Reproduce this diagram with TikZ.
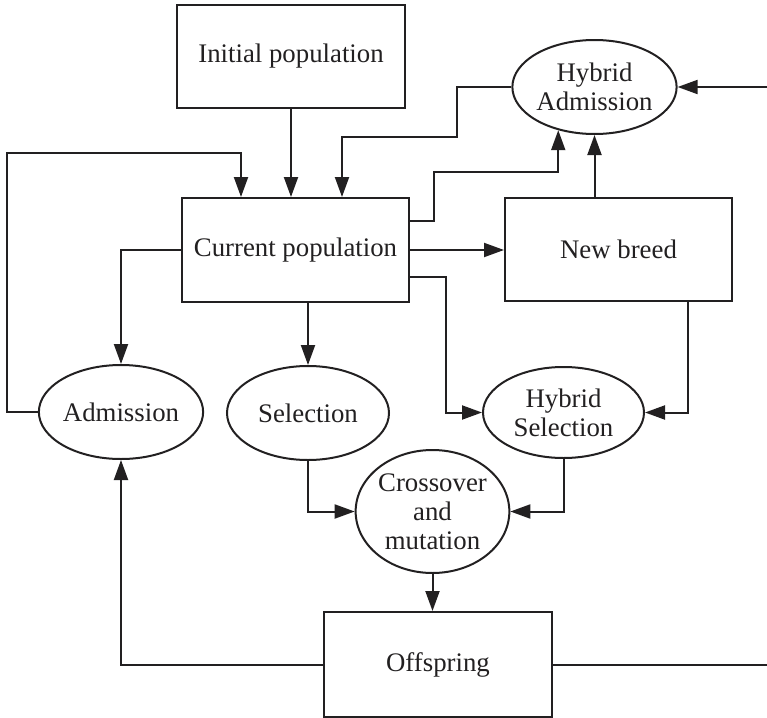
\documentclass[tikz,border=0pt]{standalone}
\usepackage{fontspec}
\setmainfont{Liberation Serif}
\usetikzlibrary{arrows.meta,shapes.geometric}
\definecolor{ink}{RGB}{34,32,33}
\begin{document}
\begin{tikzpicture}[x=0.5pt,y=-0.5pt,
  every node/.style={font=\fontsize{13.4}{14.4}\selectfont, text=ink},
  box/.style={draw=ink, line width=1pt, rectangle, inner sep=0pt},
  oval/.style={draw=ink, line width=1pt, ellipse, inner sep=0pt, align=center},
  link/.style={draw=ink, line width=1pt},
  arr/.style={link, -{Triangle[length=10pt,width=7pt]}}]
\useasboundingbox (0,0) rectangle (767,718);

% blocks
\node[box, minimum width=114pt, minimum height=51.5pt] (init) at (291,56.5) {Initial population};
\node[box, minimum width=113.5pt, minimum height=52pt] (cur) at (295.5,250) {Current population};
\node[box, minimum width=113.5pt, minimum height=51.5pt] (nb) at (618.5,249.5) {New breed};
\node[box, minimum width=114pt, minimum height=52.5pt] (off) at (438,664.5) {Offspring};

% operators
\node[oval, minimum width=74.5pt, minimum height=47pt] (ha) at (594.5,87) {Hybrid\\Admission};
\node[oval, minimum width=80pt, minimum height=47pt] (adm) at (121,412) {Admission};
\node[oval, minimum width=81pt, minimum height=47pt] (sel) at (308,413) {Selection};
\node[oval, minimum width=80.5pt, minimum height=45.5pt] (hs) at (563.5,412.5) {Hybrid\\Selection};
\node[oval, minimum width=73.5pt, minimum height=61.5pt] (cm) at (432.5,511.5) {Crossover\\and\\mutation};

% bend points and open ends
\coordinate (k1) at (7,153);
\coordinate (k2) at (457,137);
\coordinate (k3) at (434,172);
\coordinate (rt1) at (767,664.5);
\coordinate (rt2) at (767,87);

% connectors
\draw[arr] (init.south) -- (init.south |- cur.north);
\draw[arr] (adm.west) -| (k1) -| ([xshift=-27.25pt]cur.north);
\draw[arr] (ha.west) -| (k2) -| ([xshift=23.25pt]cur.north);
\draw[arr] ([yshift=14.5pt]cur.east) -| (k3) -| (ha.-130.7);
\draw[arr] (nb.north -| ha.south) -- (ha.south);
\draw[arr] (cur.east) -- (cur.east -| nb.west);
\draw[arr] ([yshift=-13.5pt]cur.east) -| ([xshift=-18pt]hs.west) -- (hs.west);
\draw[arr] ([xshift=34.75pt]nb.south) |- (hs.east);
\draw[arr] (cur.west) -| (adm.north);
\draw[arr] (cur.south -| sel.north) -- (sel.north);
\draw[arr] (sel.south) |- (cm.west);
\draw[arr] (hs.south) |- (cm.east);
\draw[arr] (cm.south) -- (cm.south |- off.north);
\draw[arr] (off.west) -| (adm.south);
\draw[link] (off.east) -- (rt1);
\draw[arr] (rt2) -- (ha.east);
\end{tikzpicture}
\end{document}
